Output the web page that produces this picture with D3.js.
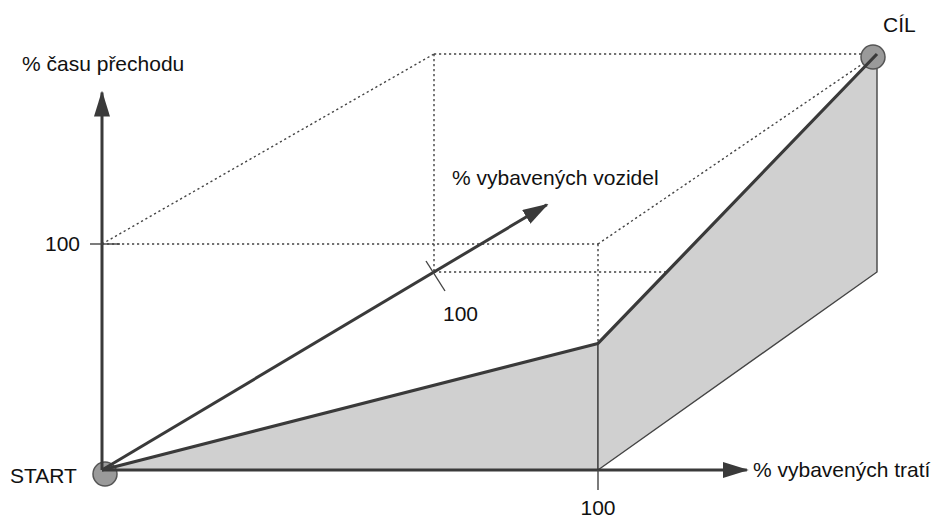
<!DOCTYPE html>
<html>
<head>
<meta charset="utf-8">
<script src="https://cdn.jsdelivr.net/npm/d3@7"></script>
<style>
  body { margin: 0; background: #fff; }
  text { font-family: "Liberation Sans", Arial, sans-serif; font-size: 21px; fill: #111; }
</style>
</head>
<body>
<svg id="svg-graphic" width="936" height="520"></svg>
<script>
/////////////////////////////////////////////////////////////////////////////////////
// Data (t = % vybavených tratí, v = % vybavených vozidel, z = % času přechodu)
var pathPoints = [ {t: 0, v: 0, z: 0}, {t: 100, v: 0, z: 56}, {t: 100, v: 100, z: 100} ];
var axisLabels = ["% vybavených tratí", "% vybavených vozidel", "% času přechodu"];
var tickLabel = "100";
var endLabels = ["START", "CÍL"];
var axisEnds = {t: 130, v: 134, z: 167};

/////////////////////////////////////////////////////////////////////////////////////
// Projection: front face (v=0) and back face (v=100), interpolated along v
var svg = d3.select("#svg-graphic");
var xFront = d3.scaleLinear().domain([0, 100]).range([102, 598]);
var xBack  = d3.scaleLinear().domain([0, 100]).range([434, 877]);
var yFront = d3.scaleLinear().domain([0, 100]).range([470, 244]);
var yBack  = d3.scaleLinear().domain([0, 100]).range([272, 54]);
var vScale = d3.scaleLinear().domain([0, 100]).range([0, 1]);

function proj(p) {
  var k = vScale(p.v);
  return [xFront(p.t) + (xBack(p.t) - xFront(p.t)) * k,
          yFront(p.z) + (yBack(p.z) - yFront(p.z)) * k];
}
var line = d3.line().x(function(d) { return proj(d)[0]; }).y(function(d) { return proj(d)[1]; });

// arrowhead
svg.append("defs").append("marker")
   .attr("id", "arrow").attr("viewBox", "0 0 26 16")
   .attr("refX", 24).attr("refY", 8)
   .attr("markerWidth", 26).attr("markerHeight", 16)
   .attr("markerUnits", "userSpaceOnUse").attr("orient", "auto")
   .append("path").attr("d", "M0,0L26,8L0,16Z").attr("fill", "#3a3a3a");

/////////////////////////////////////////////////////////////////////////////////////
// Dotted box
var boxEdges = [
  [{t: 0, v: 0, z: 100}, {t: 100, v: 0, z: 100}],
  [{t: 0, v: 0, z: 100}, {t: 0, v: 100, z: 100}],
  [{t: 0, v: 100, z: 100}, {t: 100, v: 100, z: 100}],
  [{t: 0, v: 100, z: 100}, {t: 0, v: 100, z: 0}],
  [{t: 0, v: 100, z: 0}, {t: 100, v: 100, z: 0}],
  [{t: 100, v: 0, z: 100}, {t: 100, v: 100, z: 100}],
  [{t: 100, v: 0, z: 100}, {t: 100, v: 0, z: 0}]
];
svg.selectAll(".boxEdge")
   .data(boxEdges)
   .enter()
   .append("path")
   .attr("class", "boxEdge")
   .attr("d", line)
   .attr("fill", "none")
   .attr("stroke", "#444")
   .attr("stroke-width", 1.4)
   .attr("stroke-dasharray", "2.2,2.8");

/////////////////////////////////////////////////////////////////////////////////////
// Gray faces under the path
var leftFace = [pathPoints[0], {t: 100, v: 0, z: 0}, pathPoints[1]];
var rightFace = [{t: 100, v: 0, z: 0}, {t: 100, v: 100, z: 0}, pathPoints[2], pathPoints[1]];
svg.selectAll(".face")
   .data([leftFace, rightFace])
   .enter()
   .append("path")
   .attr("class", "face")
   .attr("d", function(d) { return line(d) + "Z"; })
   .attr("fill", "#d0d0d0")
   .attr("stroke", "#444")
   .attr("stroke-width", 1.4);

/////////////////////////////////////////////////////////////////////////////////////
// Axes
var axes = [
  [{t: 0, v: 0, z: 0}, {t: axisEnds.t, v: 0, z: 0}],
  [{t: 0, v: 0, z: 0}, {t: 0, v: axisEnds.v, z: 0}],
  [{t: 0, v: 0, z: 0}, {t: 0, v: 0, z: axisEnds.z}]
];
svg.selectAll(".axis")
   .data(axes)
   .enter()
   .append("path")
   .attr("class", "axis")
   .attr("d", line)
   .attr("fill", "none")
   .attr("stroke", "#3a3a3a")
   .attr("stroke-width", 3)
   .attr("marker-end", "url(#arrow)");

// ticks at 100
var tT = proj({t: 100, v: 0, z: 0});
svg.append("line").attr("x1", tT[0]).attr("x2", tT[0]).attr("y1", tT[1]).attr("y2", tT[1] + 20)
   .attr("stroke", "#444").attr("stroke-width", 1.4);
var tZ = proj({t: 0, v: 0, z: 100});
svg.append("line").attr("x1", tZ[0] - 12).attr("x2", tZ[0] + 18).attr("y1", tZ[1]).attr("y2", tZ[1])
   .attr("stroke", "#444").attr("stroke-width", 1.4);
var tV = proj({t: 0, v: 100, z: 0});
svg.append("line").attr("x1", tV[0] - 8).attr("x2", tV[0] + 11).attr("y1", tV[1] - 11).attr("y2", tV[1] + 19)
   .attr("stroke", "#444").attr("stroke-width", 1.4);

/////////////////////////////////////////////////////////////////////////////////////
// Path
svg.append("path")
   .datum(pathPoints)
   .attr("d", line)
   .attr("fill", "none")
   .attr("stroke", "#3a3a3a")
   .attr("stroke-width", 3.2)
   .attr("stroke-linejoin", "round");

var ends = [pathPoints[0], pathPoints[2]];
svg.selectAll(".endDot")
   .data(ends)
   .enter()
   .insert("circle", "path.axis")
   .attr("class", "endDot")
   .attr("cx", function(d, i) { return proj(d)[0] + (i === 0 ? 3 : -4); })
   .attr("cy", function(d, i) { return proj(d)[1] + (i === 0 ? 4 : 3); })
   .attr("r", 12)
   .attr("fill", "#9a9a9a")
   .attr("stroke", "#555")
   .attr("stroke-width", 1.5);

/////////////////////////////////////////////////////////////////////////////////////
// Labels
svg.append("text").attr("x", 753).attr("y", 477).text(axisLabels[0]);
svg.append("text").attr("x", 452).attr("y", 185).text(axisLabels[1]);
svg.append("text").attr("x", 22).attr("y", 71).text(axisLabels[2]);
svg.append("text").attr("x", tT[0]).attr("y", 515).attr("text-anchor", "middle").text(tickLabel);
svg.append("text").attr("x", 80).attr("y", tZ[1] + 7).attr("text-anchor", "end").text(tickLabel);
svg.append("text").attr("x", 443).attr("y", 321).text(tickLabel);
svg.append("text").attr("x", 10).attr("y", 483).text(endLabels[0]);
svg.append("text").attr("x", 883).attr("y", 32).text(endLabels[1]);
</script>
</body>
</html>
